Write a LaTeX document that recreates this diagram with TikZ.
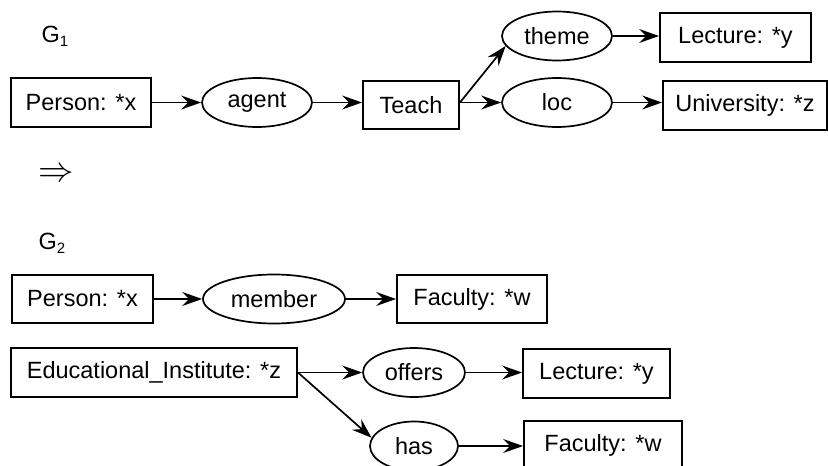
\documentclass[tikz,border=0pt]{standalone}
\usepackage{fontspec}
\setmainfont{Liberation Sans}
\usetikzlibrary{arrows.meta,shapes.geometric,calc}
\newcommand\lowidx[1]{\raisebox{-0.35ex}{\fontsize{15}{15}\selectfont #1}}
\tikzset{
  every node/.style={inner sep=0pt, font=\fontsize{23.5}{28}\selectfont},
  cbox/.style={draw, line width=1.9pt, rectangle, minimum height=49pt},
  rel/.style={draw, line width=1.7pt, ellipse, minimum height=49pt},
  conn/.style={line width=1.7pt, -{Stealth[length=20pt,width=14pt,inset=7pt]}},
  lbl/.style={}
}
\begin{document}
\begin{tikzpicture}[x=1pt,y=-1pt]
\useasboundingbox (0,0) rectangle (828,466);
% G1
\node[lbl] (g1) at (55,36) {G\lowidx{1}};
\node[cbox, minimum width=140pt] (p1) at (81,102.5) {Person: *x};
\node[rel, minimum width=110pt] (ag) at (257,102.5) {agent};
\node[cbox, minimum width=96pt, minimum height=48pt] (te) at (411,105) {Teach};
\node[rel, minimum width=110pt] (th) at (557,36) {theme};
\node[cbox, minimum width=151pt] (lc1) at (735.5,37.5) {Lecture: *y};
\node[rel, minimum width=110pt] (lo) at (557,102.5) {loc};
\node[cbox, minimum width=164pt] (un) at (745,105.5) {University: *z};
\draw[conn] (p1.east) -- (ag.west);
\draw[conn] (ag.east) -- (ag.east -| te.west);
\draw[conn] (te.east |- lo.west) -- (lo.west);
\draw[conn] (te.east |- lo.west) -- (th.191);
\draw[conn] (th.east) -- (th.east -| lc1.west);
\draw[conn] (lo.east) -- (lo.east -| un.west);
% implication
\node[lbl] (imp) at (56,175) {\scalebox{1.42}{$\Rightarrow$}};
% G2
\node[lbl] (g2) at (52,243) {G\lowidx{2}};
\node[cbox, minimum width=141pt, minimum height=48pt] (p2) at (82.5,299) {Person: *x};
\node[rel, minimum width=142pt] (me) at (274,299) {member};
\node[cbox, minimum width=150pt, minimum height=48pt] (fa1) at (472,299) {Faculty: *w};
\draw[conn] (p2.east) -- (me.west);
\draw[conn] (me.east) -- (fa1.west);
\node[cbox, minimum width=286pt] (ed) at (154,372.5) {Educational\_Institute: *z};
\node[rel, minimum width=102pt] (of) at (414,372.5) {offers};
\node[cbox, minimum width=147pt] (lc2) at (596.5,373.5) {Lecture: *y};
\node[rel, minimum width=88pt] (ha) at (414,446) {has};
\node[cbox, minimum width=158pt] (fa2) at (603,445.5) {Faculty: *w};
\draw[conn] (ed.east) -- (of.west);
\draw[conn] (ed.east) -- (ha.169);
\draw[conn] (of.east) -- (of.east -| lc2.west);
\draw[conn] (ha.east) -- (ha.east -| fa2.west);
\end{tikzpicture}
\end{document}
